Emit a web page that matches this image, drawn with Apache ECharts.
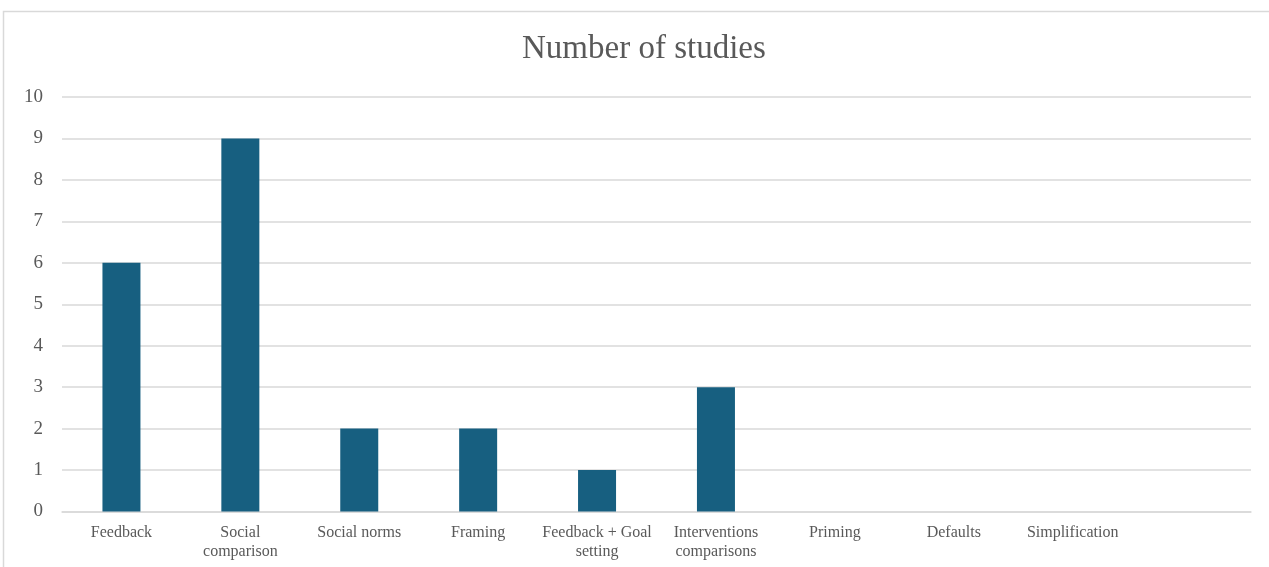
<!DOCTYPE html>
<html>
<head>
<meta charset="utf-8">
<script src="https://cdn.jsdelivr.net/npm/echarts@6/dist/echarts.min.js"></script>
<style>
html,body{margin:0;padding:0;background:#fff;}
#chart{width:1269px;height:567px;}
</style>
</head>
<body>
<div id="chart"></div>
<script>
var titleText = 'Number of studies';
var categories = ['Feedback', 'Social\ncomparison', 'Social norms', 'Framing', 'Feedback + Goal\nsetting', 'Interventions\ncomparisons', 'Priming', 'Defaults', 'Simplification', ''];
var studies = [6, 9, 2, 2, 1, 3, 0, 0, 0, null];
var yTicks = {min: 0, max: 10, interval: 1};

var FONT = '"Liberation Serif", "Times New Roman", serif';
var TXT = '#595959';
var GRID = '#d9d9d9';

var chart = echarts.init(document.getElementById('chart'), null, {renderer: 'canvas'});
chart.setOption({
  animation: false,
  backgroundColor: '#ffffff',
  title: {
    text: titleText,
    left: 517,
    top: 28,
    textStyle: {fontFamily: FONT, fontSize: 33, fontWeight: 'normal', color: TXT}
  },
  graphic: [{
    type: 'rect',
    shape: {x: 3.5, y: 11.5, width: 1400, height: 700},
    style: {fill: 'none', stroke: GRID, lineWidth: 1.5},
    silent: true
  }],
  grid: {left: 62, right: 18, top: 97, bottom: 55.5, containLabel: false},
  xAxis: {
    type: 'category',
    data: categories,
    axisLine: {show: true, lineStyle: {color: GRID, width: 1.5}},
    axisTick: {show: false},
    axisLabel: {
      interval: 0,
      margin: 12,
      fontFamily: FONT,
      fontSize: 16,
      lineHeight: 19,
      color: TXT
    }
  },
  yAxis: {
    type: 'value',
    min: yTicks.min,
    max: yTicks.max,
    interval: yTicks.interval,
    axisLine: {show: false},
    axisTick: {show: false},
    splitLine: {lineStyle: {color: GRID, width: 1.5}},
    axisLabel: {margin: 19, fontFamily: FONT, fontSize: 19, color: TXT}
  },
  series: [{
    type: 'bar',
    data: studies,
    barWidth: 38,
    itemStyle: {color: '#175f80'}
  }]
});
</script>
</body>
</html>
